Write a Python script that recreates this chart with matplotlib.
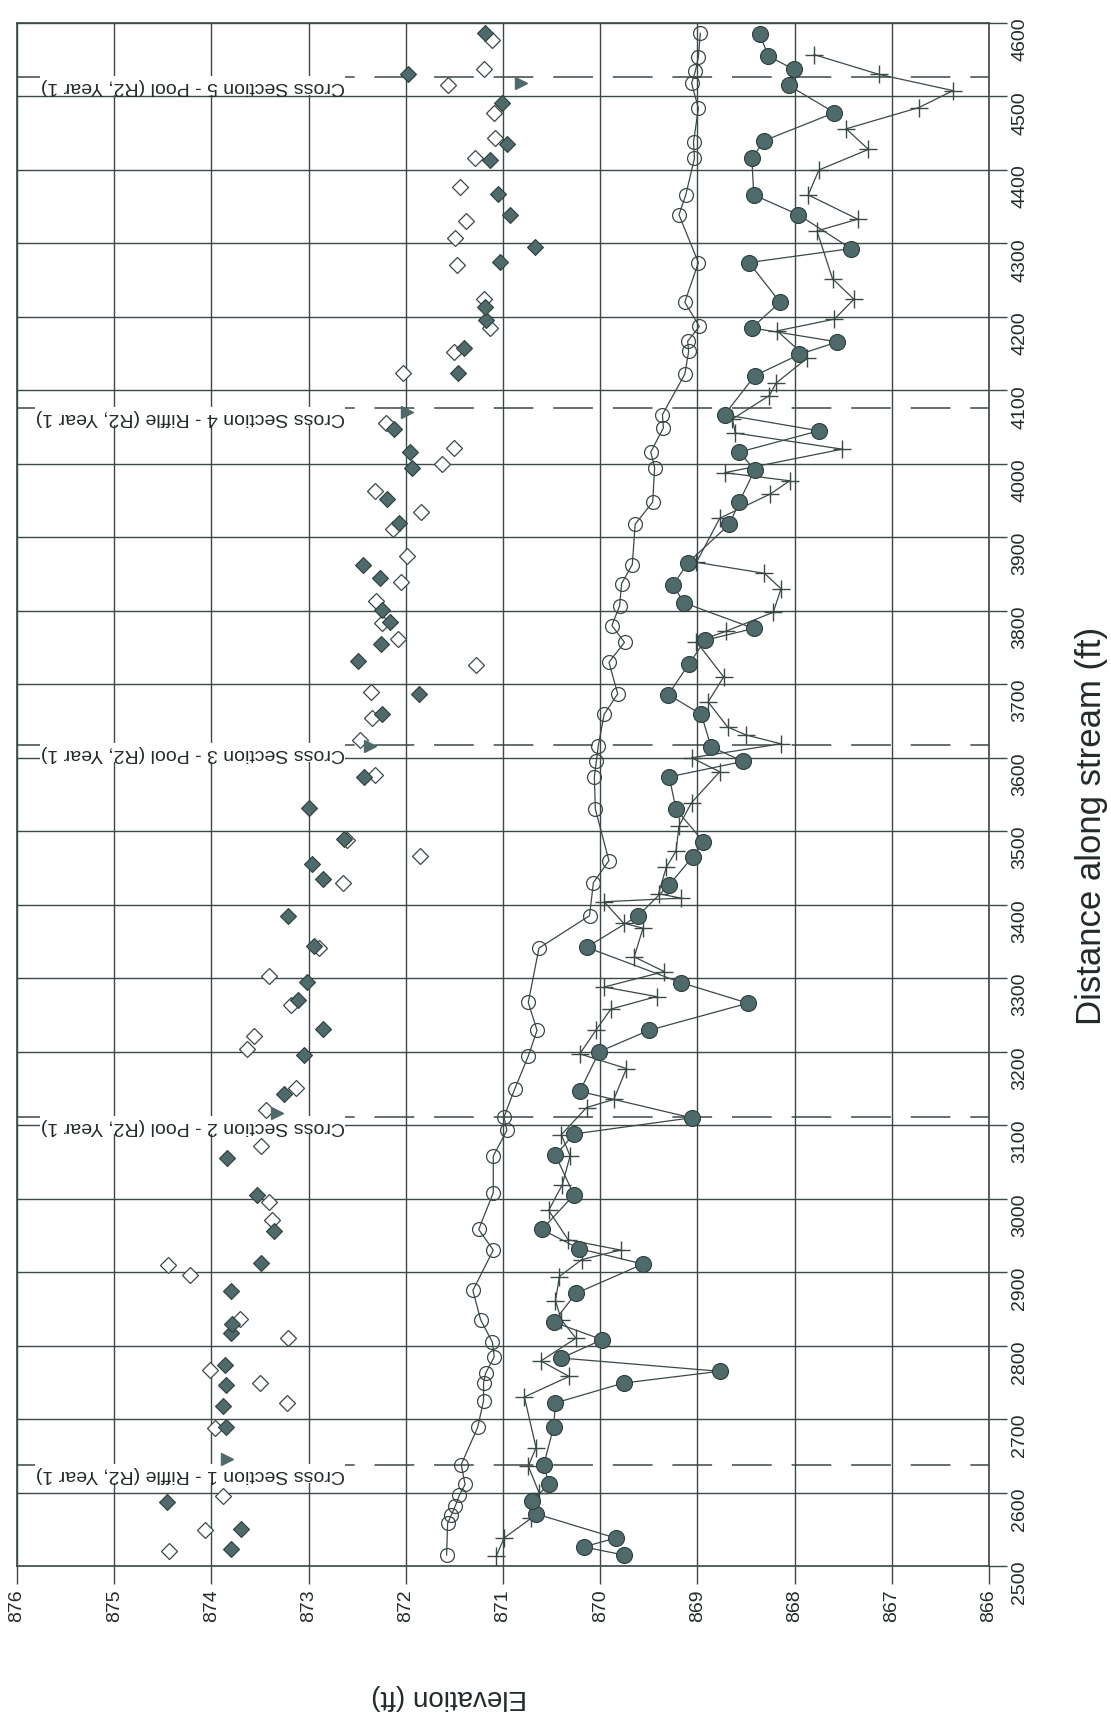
import matplotlib
matplotlib.use("Agg")
import matplotlib.pyplot as plt

plt.rcParams['font.family'] = ['Liberation Sans', 'DejaVu Sans']

# open circles with line
ws_dist = [2515, 2558, 2570, 2582, 2596, 2611, 2638, 2689, 2725, 2749, 2762, 2785, 2805, 2835,
           2875, 2930, 2958, 3008, 3058, 3093, 3111, 3149, 3194, 3229, 3267, 3341, 3385, 3430,
           3460, 3530, 3574, 3595, 3616, 3659, 3687, 3730, 3757, 3780, 3807, 3837, 3863, 3918,
           3948, 3995, 4016, 4049, 4067, 4122, 4153, 4167, 4187, 4220, 4274, 4339, 4366, 4416,
           4438, 4484, 4518, 4535, 4554, 4586]
ws_elev = [871.58, 871.57, 871.53, 871.49, 871.45, 871.39, 871.43, 871.26, 871.20, 871.20, 871.18,
           871.09, 871.11, 871.23, 871.31, 871.10, 871.25, 871.10, 871.10, 870.96, 870.99, 870.88,
           870.74, 870.65, 870.74, 870.63, 870.11, 870.07, 869.91, 870.05, 870.06, 870.04, 870.02,
           869.96, 869.82, 869.91, 869.75, 869.88, 869.80, 869.78, 869.67, 869.64, 869.46, 869.44,
           869.48, 869.35, 869.36, 869.13, 869.09, 869.10, 868.98, 869.13, 868.99, 869.19, 869.12,
           869.03, 869.04, 868.99, 869.06, 869.02, 868.99, 868.97]

# filled circles with line
thw1_dist = [2515, 2526, 2538, 2571, 2589, 2611, 2638, 2689, 2722, 2749, 2765, 2783, 2808, 2832,
             2871, 2911, 2932, 2958, 3005, 3059, 3088, 3110, 3146, 3200, 3229, 3266, 3294, 3342,
             3385, 3427, 3465, 3486, 3530, 3574, 3595, 3615, 3659, 3686, 3727, 3760, 3776, 3811,
             3835, 3865, 3918, 3948, 3992, 4016, 4045, 4067, 4120, 4149, 4166, 4185, 4220, 4274,
             4293, 4339, 4366, 4416, 4440, 4478, 4515, 4537, 4555, 4585]
thw1_elev = [869.76, 870.17, 869.84, 870.66, 870.70, 870.53, 870.58, 870.48, 870.46, 869.76, 868.77,
             870.40, 869.98, 870.48, 870.25, 869.56, 870.22, 870.60, 870.27, 870.46, 870.27, 869.06,
             870.21, 870.01, 869.50, 868.48, 869.17, 870.14, 869.61, 869.29, 869.05, 868.94, 869.22,
             869.29, 868.53, 868.86, 868.96, 869.30, 869.09, 868.92, 868.42, 869.14, 869.25, 869.10,
             868.67, 868.57, 868.41, 868.57, 867.75, 868.72, 868.41, 867.95, 867.56, 868.44, 868.15,
             868.47, 867.42, 867.96, 868.42, 868.44, 868.31, 867.59, 868.06, 868.01, 868.27, 868.36]

# plus markers with line
thw0_dist = [2513, 2538, 2565, 2600, 2636, 2661, 2730, 2758, 2779, 2810, 2835, 2861, 2894, 2917,
             2930, 2944, 2984, 3019, 3058, 3087, 3124, 3135, 3177, 3197, 3230, 3258, 3275, 3288,
             3309, 3329, 3368, 3375, 3404, 3409, 3415, 3451, 3473, 3507, 3539, 3581, 3600, 3619,
             3631, 3642, 3676, 3710, 3758, 3772, 3798, 3830, 3851, 3866, 3926, 3959, 3977, 3988,
             4020, 4042, 4061, 4093, 4110, 4144, 4181, 4197, 4224, 4252, 4317, 4333, 4366, 4400,
             4428, 4456, 4485, 4508, 4530, 4557]
thw0_elev = [871.07, 870.99, 870.71, 870.63, 870.74, 870.66, 870.78, 870.32, 870.61, 870.25, 870.40,
             870.46, 870.42, 870.19, 869.79, 870.33, 870.53, 870.39, 870.31, 870.40, 870.14, 869.86,
             869.73, 870.21, 870.04, 869.89, 869.42, 869.96, 869.34, 869.65, 869.56, 869.76, 869.96,
             869.17, 869.40, 869.32, 869.22, 869.19, 869.06, 868.77, 869.06, 868.14, 868.50, 868.69,
             868.89, 868.73, 869.01, 868.71, 868.22, 868.14, 868.31, 869.01, 868.77, 868.25, 868.05,
             868.72, 867.51, 868.61, 868.64, 868.26, 868.19, 867.87, 868.18, 867.59, 867.39, 867.61,
             867.77, 867.35, 867.86, 867.75, 867.24, 867.47, 866.72, 866.37, 867.13, 867.80]

# filled diamonds
bkf1_dist = [2523, 2551, 2587, 2689, 2718, 2746, 2774, 2817, 2830, 2874, 2912, 2956, 3005, 3055,
             3143, 3195, 3231, 3270, 3295, 3344, 3385, 3435, 3455, 3490, 3531, 3574, 3660, 3687,
             3732, 3755, 3785, 3801, 3845, 3863, 3919, 3952, 3994, 4016, 4047, 4123, 4158, 4196,
             4214, 4275, 4295, 4339, 4367, 4413, 4436, 4491, 4530, 4586]
bkf1_elev = [873.80, 873.70, 874.46, 873.85, 873.88, 873.85, 873.86, 873.80, 873.79, 873.80, 873.49,
             873.36, 873.53, 873.84, 873.25, 873.05, 872.85, 873.11, 873.02, 872.94, 873.21, 872.85,
             872.97, 872.64, 873.00, 872.43, 872.25, 871.86, 872.49, 872.26, 872.16, 872.24, 872.27,
             872.44, 872.07, 872.19, 871.94, 871.96, 872.12, 871.46, 871.40, 871.18, 871.19, 871.03,
             870.67, 870.93, 871.05, 871.13, 870.96, 871.01, 871.98, 871.19]

# open diamonds
bkf0_dist = [2520, 2549, 2595, 2688, 2722, 2749, 2767, 2810, 2836, 2896, 2910, 2971, 2996, 3071,
             3121, 3151, 3203, 3221, 3264, 3303, 3341, 3429, 3466, 3488, 3577, 3624, 3654, 3690,
             3726, 3761, 3783, 3814, 3839, 3874, 3912, 3935, 3963, 4000, 4022, 4055, 4123, 4152,
             4185, 4224, 4271, 4308, 4330, 4377, 4416, 4443, 4478, 4516, 4538, 4577]
bkf0_elev = [874.44, 874.07, 873.88, 873.96, 873.22, 873.50, 874.01, 873.21, 873.71, 874.22, 874.45,
             873.38, 873.41, 873.49, 873.44, 873.13, 873.63, 873.56, 873.18, 873.41, 872.89, 872.65,
             871.85, 872.60, 872.32, 872.47, 872.35, 872.36, 871.28, 872.08, 872.25, 872.31, 872.05,
             871.99, 872.13, 871.84, 872.32, 871.63, 871.50, 872.20, 872.03, 871.50, 871.13, 871.20,
             871.47, 871.49, 871.38, 871.44, 871.29, 871.08, 871.09, 871.57, 871.20, 871.11]

# triangles at the cross sections
xs_pt_dist = [2645, 3117, 3616, 4070, 4518]
xs_pt_elev = [873.84, 873.33, 872.37, 871.99, 870.82]

xs_dist = [2637, 3111, 3618, 4076, 4526]
xs_labels = ["Cross Section 1 - Riffle (R2, Year 1)",
             "Cross Section 2 - Pool (R2, Year 1)",
             "Cross Section 3 - Pool (R2, Year 1)",
             "Cross Section 4 - Riffle (R2, Year 1)",
             "Cross Section 5 - Pool (R2, Year 1)"]

elev_ticks = list(range(866, 877))
dist_ticks = list(range(2500, 4700, 100))

ink = '#3a4847'
fill = '#4f6a6a'

fig = plt.figure(figsize=(11.11, 17.15), dpi=100)
ax = fig.add_axes([0.0153, 0.0863, 0.8749, 0.8997])

ax.set_xlim(876, 866)
ax.set_ylim(2500, 4600)
ax.set_xticks(elev_ticks)
ax.set_yticks(dist_ticks)
ax.yaxis.tick_right()
ax.yaxis.set_label_position('right')
ax.tick_params(axis='both', direction='out', length=13, width=1.0, color=ink,
               labelsize=14, labelcolor='#222a2a', labelrotation=90, pad=3)
ax.grid(True, color=ink, linewidth=1.0)
ax.set_axisbelow(True)
for sp in ax.spines.values():
    sp.set_color(ink)
    sp.set_linewidth(1.2)

for d, lbl in zip(xs_dist, xs_labels):
    ax.axhline(d, color=ink, linewidth=1.1, linestyle=(0, (26, 13)), zorder=2)
    ax.text(872.63, d - 11, lbl, rotation=180, ha='right', va='center', fontsize=14,
            color='#222a2a', zorder=3,
            bbox=dict(facecolor='white', edgecolor='none', pad=0.5))

ax.plot(ws_elev, ws_dist, color=ink, linewidth=0.9, marker='o', markersize=10,
        markerfacecolor='none', markeredgecolor=ink, markeredgewidth=0.9, zorder=4)
ax.plot(thw0_elev, thw0_dist, color=ink, linewidth=0.9, marker='+', markersize=13,
        markeredgewidth=1.0, zorder=4)
ax.plot(thw1_elev, thw1_dist, color=ink, linewidth=0.9, marker='o', markersize=11.5,
        markerfacecolor=fill, markeredgecolor='#2e3d3d', markeredgewidth=0.8, zorder=5)
ax.plot(bkf0_elev, bkf0_dist, linestyle='none', marker='D', markersize=8,
        markerfacecolor='white', markeredgecolor=ink, markeredgewidth=0.9, zorder=4)
ax.plot(bkf1_elev, bkf1_dist, linestyle='none', marker='D', markersize=8,
        markerfacecolor=fill, markeredgecolor='#2e3d3d', markeredgewidth=0.8, zorder=5)
ax.plot(xs_pt_elev, xs_pt_dist, linestyle='none', marker='>', markersize=9,
        markerfacecolor=fill, markeredgecolor=fill, zorder=5)

ax.set_ylabel('Distance along stream (ft)', rotation=90, fontsize=25, color='#222a2a')
ax.yaxis.set_label_coords(1.088, 0.48)
ax.set_xlabel('Elevation (ft)', rotation=180, fontsize=20, color='#222a2a')
ax.xaxis.set_label_coords(0.444, -0.076)

plt.savefig('out.png', dpi=100)
